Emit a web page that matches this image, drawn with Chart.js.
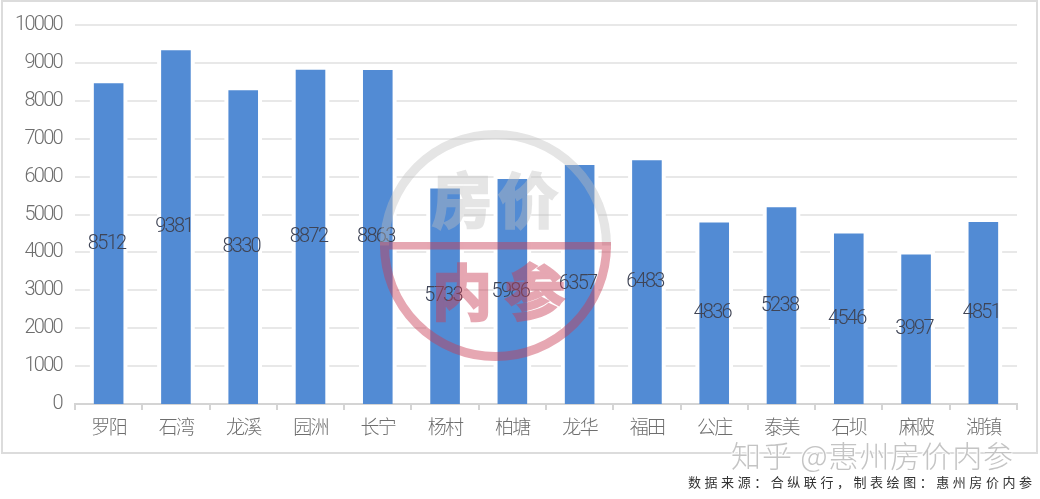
<!DOCTYPE html>
<html>
<head>
<meta charset="utf-8">
<title>惠州房价</title>
<script src="https://cdn.jsdelivr.net/npm/chart.js@4/dist/chart.umd.min.js"></script>
<style>
html, body { margin: 0; padding: 0; background: #fff; overflow: hidden; }
#frame { position: absolute; left: 1px; top: 0; width: 1037px; height: 454px; box-sizing: border-box; border: 2px solid #dcdcdc; }
canvas { position: absolute; left: 0; top: 0; }
#zhihu { position: absolute; left: 731px; top: 432px; font: 300 30px "Noto Sans CJK SC"; color: #c4c4c4; white-space: nowrap; letter-spacing: 0.9px;
  text-shadow: 0 0 2px #fff, 0 0 3px #fff, 1px 1px 1px #fff, -1px -1px 1px #fff; }
#source { position: absolute; left: 688px; top: 472px; font: 13px "Noto Sans CJK SC"; color: #333; white-space: nowrap; letter-spacing: 3.55px; }
</style>
</head>
<body>
<div id="frame"></div>
<canvas id="myChart" width="1040" height="499"></canvas>
<div id="zhihu">知乎 @惠州房价内参</div>
<div id="source">数据来源：合纵联行，制表绘图：惠州房价内参</div>
<script>
document.addEventListener("DOMContentLoaded", function () {

const categories = ['罗阳', '石湾', '龙溪', '园洲', '长宁', '杨村', '柏塘', '龙华', '福田', '公庄', '泰美', '石坝', '麻陂', '湖镇'];
const prices = [8512, 9381, 8330, 8872, 8863, 5733, 5986, 6357, 6483, 4836, 5238, 4546, 3997, 4851];

const numberFont = 'Roboto';
const cjkFont = '"Noto Sans CJK SC"';

// narrow look of the original digits
const tightText = {
    id: 'tightText',
    beforeDraw(chart) {
        chart.ctx.letterSpacing = '-1.7px';
    }
};

// white gap that cuts the gridlines around each bar
const barHalo = {
    id: 'barHalo',
    beforeDatasetsDraw(chart) {
        const ctx = chart.ctx;
        const area = chart.chartArea;
        ctx.save();
        ctx.fillStyle = '#fff';
        chart.getDatasetMeta(0).data.forEach(function (bar) {
            ctx.fillRect(bar.x - bar.width / 2 - 4, bar.y - 4, bar.width + 8, area.bottom - bar.y - 1);
        });
        ctx.restore();
    }
};

// value labels sit in the middle of the bars
const barLabels = {
    id: 'barLabels',
    afterDatasetsDraw(chart) {
        const ctx = chart.ctx;
        const area = chart.chartArea;
        ctx.save();
        ctx.font = '300 20px ' + numberFont;
        ctx.fillStyle = '#3f4455';
        ctx.textAlign = 'center';
        ctx.textBaseline = 'middle';
        chart.getDatasetMeta(0).data.forEach(function (bar, i) {
            ctx.fillText(prices[i], bar.x - 2, (bar.y + area.bottom) / 2);
        });
        ctx.restore();
    }
};

function stampLayer(draw) {
    const layer = document.createElement('canvas');
    layer.width = 1040;
    layer.height = 499;
    draw(layer.getContext('2d'));
    return layer;
}

// round stamp over the chart, each colour flattened first so strokes do not stack
const stamp = {
    id: 'stamp',
    afterDraw(chart) {
        const ctx = chart.ctx;
        const cx = 495.5, cy = 245.5, r = 111;
        const word = function (c, text, x, y, color) {
            c.font = 'bold 60px ' + cjkFont;
            c.textAlign = 'center';
            c.textBaseline = 'middle';
            c.fillStyle = color;
            c.strokeStyle = color;
            c.lineWidth = 2.5;
            c.fillText(text, x, y);
            c.strokeText(text, x, y);
        };
        const grey = stampLayer(function (c) {
            c.lineWidth = 9;
            c.strokeStyle = 'rgb(190,190,190)';
            c.beginPath();
            c.arc(cx, cy, r, Math.PI, 0);
            c.stroke();
            word(c, '房', 462, 200, 'rgb(190,190,190)');
            word(c, '价', 528, 200, 'rgb(190,190,190)');
        });
        const red = stampLayer(function (c) {
            c.lineWidth = 9;
            c.strokeStyle = 'rgb(200,60,85)';
            c.beginPath();
            c.arc(cx, cy, r, 0, Math.PI);
            c.stroke();
            c.fillStyle = 'rgb(200,60,85)';
            c.fillRect(cx - r - 4.5, cy - 3.5, 2 * r + 9, 7.5);
            word(c, '内', 462, 292, 'rgb(200,60,85)');
            word(c, '参', 535, 292, 'rgb(200,60,85)');
        });
        ctx.save();
        ctx.globalAlpha = 0.4;
        ctx.drawImage(grey, 0, 0);
        ctx.globalAlpha = 0.45;
        ctx.drawImage(red, 0, 0);
        ctx.restore();
    }
};

new Chart(document.getElementById('myChart'), {
    type: 'bar',
    data: {
        labels: categories,
        datasets: [{
            data: prices,
            yAxisID: 'yBars',
            backgroundColor: '#528bd4',
            categoryPercentage: 1,
            barPercentage: 0.44
        }]
    },
    plugins: [tightText, barHalo, barLabels, stamp],
    options: {
        responsive: false,
        animation: false,
        devicePixelRatio: 1,
        layout: { padding: { top: 20, right: 23, left: 0, bottom: 0 } },
        plugins: { legend: { display: false }, tooltip: { enabled: false } },
        scales: {
            x: {
                afterFit(axis) { axis.height = 95; },
                border: { color: '#d4d4d4', width: 2 },
                grid: { drawOnChartArea: false, drawTicks: true, tickLength: 6, color: '#d4d4d4', lineWidth: 2 },
                ticks: { color: '#6e6e6e', padding: 5, font: { family: cjkFont, size: 19, weight: 300 }, maxRotation: 0 }
            },
            y: {
                min: 0,
                max: 10000,
                afterFit(axis) { axis.width = 75; },
                border: { display: false },
                grid: { drawTicks: false, color: '#e8e8e8', lineWidth: 2 },
                ticks: {
                    stepSize: 1000,
                    color: '#6e6e6e',
                    padding: 13,
                    font: { family: numberFont, size: 20, weight: 300 },
                    callback: function (value) { return String(value); }
                }
            },
            // the picture's bars stand about 2px below the ruled gridlines
            yBars: { display: false, min: 50, max: 10050 }
        }
    }
});

});
</script>
</body>
</html>
